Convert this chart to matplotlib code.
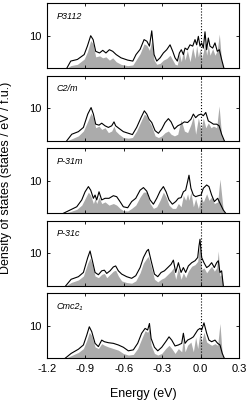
import matplotlib
matplotlib.use("Agg")
import matplotlib.pyplot as plt

plt.rcParams['font.family'] = ['Liberation Sans', 'DejaVu Sans']

# structure names, top to bottom
names = ['P3112', 'C2/m', 'P-31m', 'P-31c', 'Cmc2₁']

# P3112
e1 = [-1.046, -1.015, -0.963, -0.91, -0.885, -0.859, -0.84, -0.82, -0.79, -0.765,
      -0.74, -0.713, -0.687, -0.66, -0.622, -0.57, -0.53, -0.505, -0.473, -0.442,
      -0.42, -0.40, -0.382, -0.364, -0.343, -0.317, -0.291, -0.265, -0.239, -0.218,
      -0.20, -0.182, -0.166, -0.151, -0.135, -0.122, -0.104, -0.083, -0.062, -0.044,
      -0.031, -0.018, -0.005, 0.008, 0.021, 0.034, 0.047, 0.06, 0.073, 0.094,
      0.112, 0.13, 0.146, 0.164, 0.182]
tot1 = [0, 2.2, 2.7, 4.2, 6.8, 10.0, 8.8, 5.2, 4.7, 5.5,
        4.7, 5.7, 5.2, 4.2, 3.2, 2.5, 2.2, 4.2, 5.8, 8.8,
        8.3, 6.8, 11.5, 4.2, 2.2, 3.2, 4.7, 5.7, 7.2, 5.2,
        3.2, 2.2, 4.7, 5.7, 4.2, 6.2, 5.7, 7.2, 6.8, 8.8,
        7.2, 9.8, 6.8, 7.8, 6.2, 11.2, 5.7, 9.3, 6.8, 6.2,
        7.8, 5.2, 5.7, 2.7, 0]
part1 = [0, 0.8, 1.2, 2.8, 5.0, 8.5, 7.5, 3.5, 3.8, 3.2,
         3.5, 2.5, 3.2, 2.0, 1.2, 0.8, 1.0, 2.5, 4.5, 7.5,
         7.0, 5.5, 8.5, 2.5, 1.2, 1.5, 2.5, 3.0, 4.0, 2.5,
         1.2, 1.0, 4.5, 2.0, 5.5, 2.5, 5.5, 2.0, 6.5, 3.0,
         7.0, 3.5, 6.0, 3.0, 5.0, 8.0, 4.0, 7.0, 4.0, 6.0,
         4.0, 5.5, 10.5, 2.0, 0]

# C2/m
e2 = [-1.046, -1.007, -0.955, -0.916, -0.882, -0.856, -0.838, -0.82, -0.794, -0.773,
      -0.747, -0.721, -0.695, -0.677, -0.664, -0.638, -0.604, -0.565, -0.533, -0.50,
      -0.466, -0.44, -0.421, -0.403, -0.382, -0.356, -0.33, -0.304, -0.278, -0.252,
      -0.231, -0.205, -0.179, -0.153, -0.127, -0.102, -0.076, -0.057, -0.039, -0.018,
      0.003, 0.021, 0.04, 0.06, 0.081, 0.10, 0.125, 0.144, 0.164, 0.185]
tot2 = [0, 2.0, 2.8, 4.1, 8.2, 10.2, 8.2, 5.1, 4.8, 5.4,
        4.6, 4.1, 4.6, 5.8, 4.6, 3.8, 2.8, 2.3, 1.9, 4.1,
        7.1, 9.2, 8.2, 6.6, 5.6, 3.1, 2.3, 3.6, 5.6, 6.8,
        5.8, 3.6, 4.6, 5.1, 5.8, 5.6, 6.6, 8.2, 7.1, 7.9,
        8.2, 7.7, 8.7, 6.1, 5.6, 5.1, 5.1, 4.6, 2.0, 0]
part2 = [0, 0.6, 1.5, 3.0, 6.0, 8.5, 7.0, 4.0, 4.5, 3.5,
         4.0, 2.5, 3.0, 4.5, 3.0, 2.0, 1.0, 0.8, 1.0, 3.0,
         6.0, 8.2, 7.5, 6.0, 4.5, 1.5, 1.0, 1.5, 2.5, 3.0,
         2.0, 1.5, 2.0, 6.5, 3.0, 2.5, 5.0, 7.5, 2.0, 7.0,
         3.5, 7.0, 4.0, 5.5, 4.0, 4.5, 4.0, 10.7, 1.5, 0]

# P-31m
e3 = [-1.072, -1.02, -0.968, -0.929, -0.903, -0.877, -0.859, -0.838, -0.825, -0.812,
      -0.794, -0.773, -0.747, -0.716, -0.682, -0.656, -0.63, -0.604, -0.57, -0.539,
      -0.507, -0.473, -0.447, -0.421, -0.395, -0.369, -0.343, -0.317, -0.291, -0.27,
      -0.247, -0.221, -0.195, -0.174, -0.153, -0.135, -0.117, -0.102, -0.091, -0.076,
      -0.057, -0.039, -0.018, 0.003, 0.021, 0.047, 0.065, 0.086, 0.107, 0.133,
      0.151, 0.177, 0.196]
tot3 = [0, 1.0, 2.0, 4.1, 6.6, 8.2, 7.1, 4.6, 5.6, 4.1,
        6.6, 4.1, 4.6, 4.6, 5.4, 5.1, 3.6, 2.0, 1.7, 3.6,
        4.6, 7.1, 7.9, 6.8, 4.1, 2.8, 4.6, 6.8, 8.2, 6.6,
        4.1, 2.8, 3.6, 4.6, 4.8, 6.6, 7.1, 9.7, 11.7, 7.7,
        5.6, 5.1, 5.4, 5.6, 7.7, 8.7, 8.2, 5.6, 3.6, 4.6,
        3.1, 1.0, 0]
part3 = [0, 0.5, 1.2, 2.5, 4.5, 6.5, 5.5, 3.0, 4.5, 3.0,
         5.0, 3.0, 3.5, 2.5, 3.0, 2.5, 1.5, 0.8, 0.7, 1.5,
         2.5, 5.0, 6.5, 6.5, 3.0, 1.5, 2.0, 4.0, 6.5, 5.0,
         2.5, 1.5, 1.5, 3.0, 2.0, 5.5, 4.0, 6.0, 4.0, 6.5,
         2.0, 4.5, 1.5, 5.0, 3.5, 6.0, 4.0, 5.0, 3.0, 3.5,
         10.5, 0.8, 0]

# P-31c
e4 = [-1.054, -1.012, -0.955, -0.916, -0.882, -0.864, -0.846, -0.825, -0.799, -0.773,
      -0.752, -0.734, -0.708, -0.682, -0.664, -0.643, -0.617, -0.578, -0.539, -0.507,
      -0.473, -0.447, -0.421, -0.408, -0.387, -0.361, -0.335, -0.309, -0.283, -0.257,
      -0.231, -0.213, -0.195, -0.174, -0.153, -0.135, -0.117, -0.096, -0.07, -0.044,
      -0.023, -0.013, -0.005, 0.008, 0.026, 0.047, 0.065, 0.086, 0.107, 0.125,
      0.138, 0.151, 0.164, 0.177]
tot4 = [0, 2.0, 2.8, 4.1, 8.7, 10.7, 7.7, 4.1, 3.4, 4.6,
        4.8, 3.8, 4.6, 5.8, 6.1, 4.6, 3.6, 2.8, 2.3, 3.1,
        5.6, 8.7, 10.7, 11.2, 7.7, 3.6, 2.8, 4.1, 4.6, 5.6,
        6.6, 7.9, 4.1, 7.1, 4.1, 5.6, 4.1, 6.1, 7.1, 7.7,
        8.7, 12.2, 14.3, 8.7, 7.1, 5.6, 6.1, 7.1, 5.6, 7.1,
        7.7, 4.1, 4.6, 0]
part4 = [0, 1.0, 1.8, 3.0, 7.0, 8.5, 6.5, 3.0, 2.5, 3.5,
         3.8, 2.5, 3.5, 4.5, 4.8, 3.0, 1.5, 1.0, 0.8, 1.5,
         4.0, 7.0, 8.5, 9.0, 6.0, 2.0, 1.2, 2.0, 2.5, 3.5,
         4.5, 5.5, 2.0, 5.5, 2.0, 4.0, 2.5, 4.5, 6.0, 6.5,
         7.5, 11.0, 12.5, 5.0, 5.5, 4.0, 5.0, 6.0, 4.5, 5.5,
         10.7, 3.0, 3.5, 0]

# Cmc21
e5 = [-1.059, -1.012, -0.955, -0.916, -0.89, -0.87, -0.851, -0.825, -0.799, -0.773,
      -0.752, -0.721, -0.682, -0.643, -0.604, -0.565, -0.526, -0.492, -0.461, -0.434,
      -0.414, -0.40, -0.387, -0.361, -0.335, -0.304, -0.273, -0.247, -0.226, -0.20,
      -0.174, -0.148, -0.135, -0.122, -0.102, -0.076, -0.057, -0.039, -0.023, -0.005,
      0.008, 0.026, 0.047, 0.065, 0.086, 0.112, 0.133, 0.151, 0.169, 0.185]
tot5 = [0, 1.5, 2.8, 4.1, 7.1, 9.7, 8.2, 4.6, 3.6, 5.6,
        5.1, 4.8, 4.6, 4.1, 3.4, 2.3, 2.6, 4.6, 7.7, 9.2,
        8.7, 10.7, 6.1, 3.4, 2.3, 3.4, 5.1, 6.6, 5.6, 3.8,
        4.1, 4.6, 7.7, 4.6, 5.6, 6.1, 6.6, 7.7, 8.7, 9.2,
        8.7, 10.9, 7.7, 5.6, 5.1, 5.6, 4.6, 4.1, 1.5, 0]
part5 = [0, 0.8, 1.8, 3.0, 5.5, 8.0, 7.0, 3.5, 3.0, 4.5,
         4.0, 3.5, 3.0, 2.5, 1.5, 1.0, 1.2, 3.0, 6.0, 8.5,
         8.0, 9.0, 4.0, 1.5, 1.0, 1.5, 3.0, 4.0, 3.0, 1.5,
         3.0, 2.0, 6.5, 2.0, 4.0, 5.0, 2.0, 6.5, 3.0, 8.0,
         5.0, 8.0, 5.0, 4.5, 4.0, 4.5, 4.0, 10.7, 1.0, 0]

xticks = [-1.2, -0.9, -0.6, -0.3, 0.0, 0.3]
xticklabels = ['-1.2', '-0.9', '-0.6', '-0.3', '0.0', '0.3']

energies = [e1, e2, e3, e4, e5]
totals = [tot1, tot2, tot3, tot4, tot5]
partials = [part1, part2, part3, part4, part5]

fig = plt.figure(figsize=(2.49, 4.04), dpi=100)

for i in range(5):
    bottom = 0.1131 + (4 - i) * 0.1795
    ax = fig.add_axes([0.189, bottom, 0.771, 0.161])
    ax.fill_between(energies[i], 0, partials[i], color='#ababab', lw=0)
    ax.plot(energies[i], totals[i], color='k', lw=0.8)
    ax.axvline(0.0, color='k', ls=':', lw=0.8)
    ax.set_xlim(-1.2, 0.3)
    ax.set_ylim(0, 20)
    ax.set_yticks([10])
    ax.set_yticklabels(['10'])
    ax.set_xticks(xticks)
    ax.tick_params(direction='in', top=True, right=True, length=2.5, width=0.6,
                   labelsize=8)
    ax.tick_params(axis='y', pad=4)
    ax.tick_params(axis='x', pad=4)
    for sp in ax.spines.values():
        sp.set_linewidth(0.8)
    ax.text(0.05, 0.80, names[i], transform=ax.transAxes, fontsize=6.5,
            style='italic', va='center', ha='left')
    if i == 4:
        ax.set_xticklabels(xticklabels)
    else:
        ax.set_xticklabels([])

fig.text(0.575, 0.025, 'Energy (eV)', ha='center', va='center', fontsize=9)
fig.text(0.025, 0.56, 'Density of states (states / eV / f.u.)', ha='center',
         va='center', rotation=90, fontsize=9)

fig.savefig('out.png', dpi=100)
